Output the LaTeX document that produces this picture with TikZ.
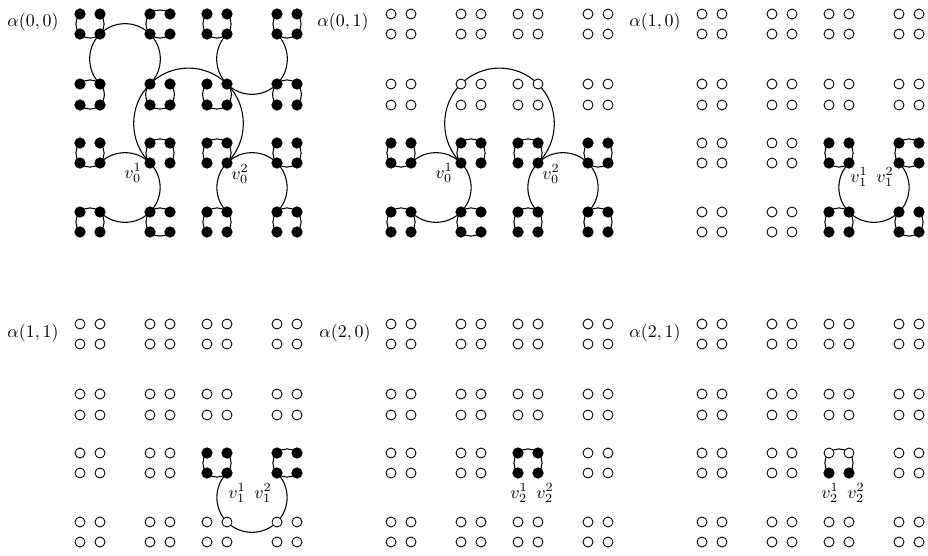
\documentclass[tikz,border=0pt]{standalone}
\usetikzlibrary{backgrounds}
\def\Xs{{80,100,150,170,207,227,277,297}}
\def\Ys{{14,34,84,105,143,163,212,232}}
\newcommand\drawpanel[7]{%
  \foreach \c in {0,...,7}{%
    \foreach \r in {0,...,7}{%
      \pgfmathsetmacro\xx{#2+\Xs[\c]}%
      \pgfmathsetmacro\yy{#3+\Ys[\r]}%
      \pgfmathtruncatemacro\ff{(\c>#4-0.5)*(\c<#5+0.5)*(\r>#6-0.5)*(\r<#7+0.5)}%
      \ifnum\ff=1
        \node[fdot] (#1-\c-\r) at (\xx,\yy) {};
      \else
        \node[hdot] (#1-\c-\r) at (\xx,\yy) {};
      \fi
    }%
  }%
}
\newcommand\sqarcs[6]{%
  \foreach \s in {#6}{%
    \if T\s \draw[arcline] (#1-#2-#3.center) to[bend left=45] (#1-#4-#3.center);\fi
    \if B\s \draw[arcline] (#1-#2-#5.center) to[bend right=45] (#1-#4-#5.center);\fi
    \if L\s \draw[arcline] (#1-#2-#3.center) to[bend right=45] (#1-#2-#5.center);\fi
    \if R\s \draw[arcline] (#1-#4-#3.center) to[bend left=45] (#1-#4-#5.center);\fi
  }%
}
\begin{document}
\begin{tikzpicture}[x=0.56pt,y=-0.56pt,
  fdot/.style={circle,fill=black,inner sep=0pt,minimum size=6.3pt},
  hdot/.style={circle,draw=black,fill=white,line width=0.5pt,inner sep=0pt,minimum size=5.6pt},
  arcline/.style={draw=black,line width=0.6pt},
  lbl/.style={inner sep=0pt,anchor=center}]
\useasboundingbox (0,0) rectangle (928,555);

% dots
\drawpanel{a}{0}{0}{0}{7}{0}{7}
\drawpanel{b}{311}{0}{0}{7}{4}{7}
\drawpanel{c}{622}{0}{4}{7}{4}{7}
\drawpanel{d}{0}{310}{4}{7}{4}{5}
\drawpanel{e}{311}{310}{4}{5}{4}{5}
\drawpanel{f}{622}{310}{4}{5}{5}{5}

\begin{pgfonlayer}{background}
% panel alpha(0,0)
\sqarcs{a}{0}{0}{1}{1}{L,B,R}
\sqarcs{a}{2}{0}{3}{1}{T,L,B}
\sqarcs{a}{0}{2}{1}{3}{T,R,B}
\sqarcs{a}{2}{2}{3}{3}{L,R,B}
\sqarcs{a}{4}{0}{5}{1}{L,B,R}
\sqarcs{a}{6}{0}{7}{1}{L,B,R}
\sqarcs{a}{4}{2}{5}{3}{L,B,R}
\sqarcs{a}{6}{2}{7}{3}{T,L,R}
\sqarcs{a}{0}{4}{1}{5}{L,B,R}
\sqarcs{a}{2}{4}{3}{5}{T,L,R}
\sqarcs{a}{0}{6}{1}{7}{T,L,R}
\sqarcs{a}{2}{6}{3}{7}{T,L,B}
\sqarcs{a}{4}{4}{5}{5}{T,L,R}
\sqarcs{a}{6}{4}{7}{5}{L,B,R}
\sqarcs{a}{4}{6}{5}{7}{T,L,R}
\sqarcs{a}{6}{6}{7}{7}{T,L,R}
\sqarcs{a}{1}{1}{2}{2}{T,L,R}
\sqarcs{a}{5}{1}{6}{2}{L,B,R}
\sqarcs{a}{1}{5}{2}{6}{T,R,B}
\sqarcs{a}{5}{5}{6}{6}{T,L,R}
\sqarcs{a}{2}{2}{5}{5}{T,L,R}

% panel alpha(0,1)
\sqarcs{b}{0}{4}{1}{5}{L,B,R}
\sqarcs{b}{2}{4}{3}{5}{T,L,R}
\sqarcs{b}{0}{6}{1}{7}{T,L,R}
\sqarcs{b}{2}{6}{3}{7}{T,L,B}
\sqarcs{b}{4}{4}{5}{5}{T,L,R}
\sqarcs{b}{6}{4}{7}{5}{L,B,R}
\sqarcs{b}{4}{6}{5}{7}{T,L,R}
\sqarcs{b}{6}{6}{7}{7}{T,L,R}
\sqarcs{b}{1}{5}{2}{6}{T,R,B}
\sqarcs{b}{5}{5}{6}{6}{T,L,R}
\sqarcs{b}{2}{2}{5}{5}{T,L,R}

% panel alpha(1,0)
\sqarcs{c}{4}{4}{5}{5}{L,B,R}
\sqarcs{c}{6}{4}{7}{5}{T,L,B}
\sqarcs{c}{4}{6}{5}{7}{T,L,R}
\sqarcs{c}{6}{6}{7}{7}{L,B,R}
\sqarcs{c}{5}{5}{6}{6}{L,B,R}

% panel alpha(1,1)
\sqarcs{d}{4}{4}{5}{5}{L,B,R}
\sqarcs{d}{6}{4}{7}{5}{T,L,B}
\sqarcs{d}{5}{5}{6}{6}{L,B,R}

% panel alpha(2,0)
\sqarcs{e}{4}{4}{5}{5}{T,L,R}

% panel alpha(2,1)
\sqarcs{f}{4}{4}{5}{5}{T,L,R}
\end{pgfonlayer}

% titles
\node[lbl] (ta) at (33,22) {$\alpha(0,0)$};
\node[lbl] (tb) at (343,22) {$\alpha(0,1)$};
\node[lbl] (tc) at (655,22) {$\alpha(1,0)$};
\node[lbl] (td) at (33,333) {$\alpha(1,1)$};
\node[lbl] (te) at (345,333) {$\alpha(2,0)$};
\node[lbl] (tf) at (655,333) {$\alpha(2,1)$};

% vertex labels
\node[lbl] (va1) at (133,173) {$v_0^1$};
\node[lbl] (va2) at (240,174) {$v_0^2$};
\node[lbl] (vb1) at (444,173) {$v_0^1$};
\node[lbl] (vb2) at (551,174) {$v_0^2$};
\node[lbl] (vc1) at (859,177) {$v_1^1$};
\node[lbl] (vc2) at (885,177) {$v_1^2$};
\node[lbl] (vd1) at (237,493) {$v_1^1$};
\node[lbl] (vd2) at (263,493) {$v_1^2$};
\node[lbl] (ve1) at (519,493) {$v_2^1$};
\node[lbl] (ve2) at (545,493) {$v_2^2$};
\node[lbl] (vf1) at (830,493) {$v_2^1$};
\node[lbl] (vf2) at (856,493) {$v_2^2$};
\end{tikzpicture}
\end{document}
